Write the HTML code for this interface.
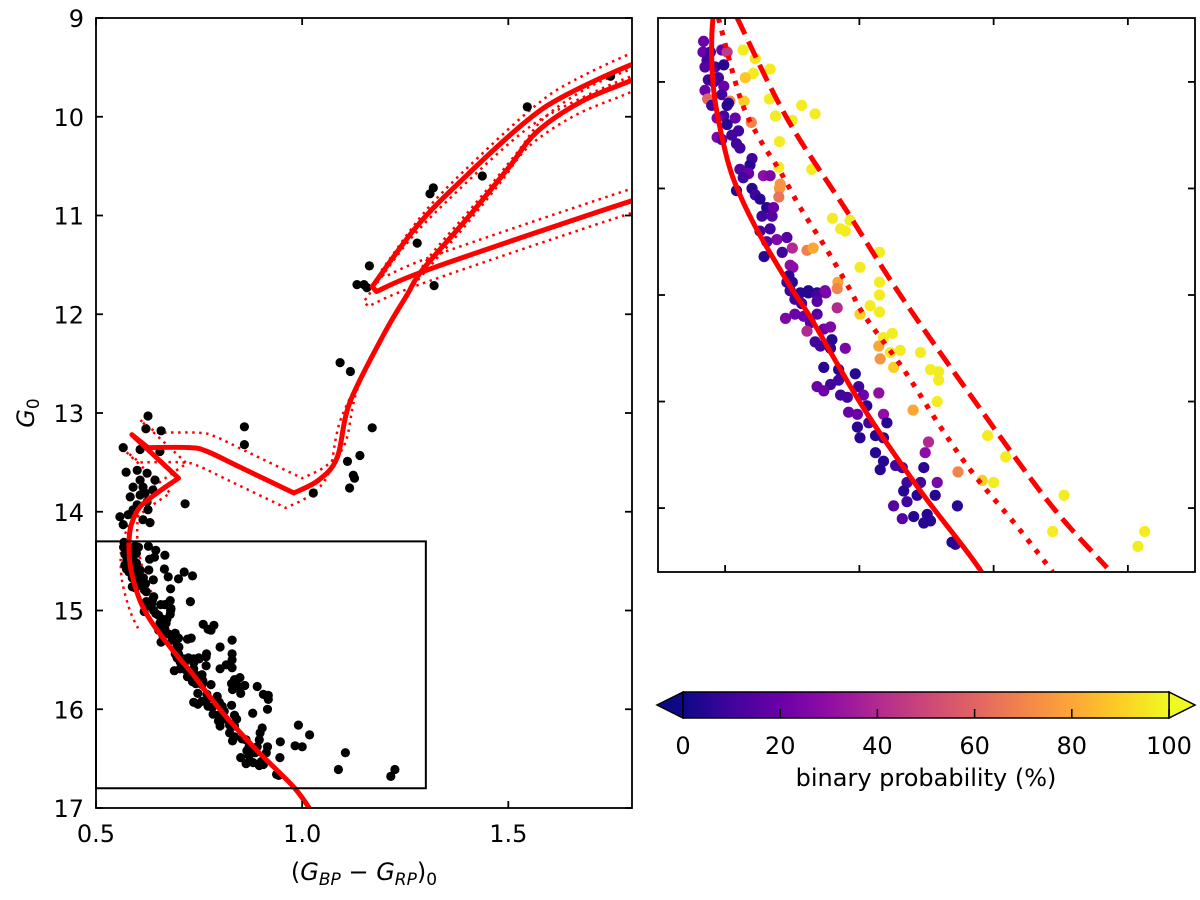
<!DOCTYPE html>
<html><head><meta charset="utf-8"><style>
body{margin:0;background:#fff}
svg{display:block;font-family:"DejaVu Sans","Liberation Sans",sans-serif}
</style></head><body>
<svg id="fig" width="1200" height="900" viewBox="0 0 1200 900">
<defs>
<linearGradient id="plasma" x1="0" x2="1" y1="0" y2="0">
<stop offset="0" stop-color="#0d0887"/><stop offset="0.1" stop-color="#41049d"/><stop offset="0.2" stop-color="#6a00a8"/><stop offset="0.3" stop-color="#8f0da4"/><stop offset="0.4" stop-color="#b12a90"/><stop offset="0.5" stop-color="#cc4778"/><stop offset="0.6" stop-color="#e16462"/><stop offset="0.7" stop-color="#f2844b"/><stop offset="0.8" stop-color="#fca636"/><stop offset="0.9" stop-color="#fcce25"/><stop offset="1" stop-color="#f0f921"/>
</linearGradient>
<clipPath id="clipL"><rect x="96" y="18" width="536" height="790"/></clipPath>
<clipPath id="clipR"><rect x="658" y="18" width="537" height="554"/></clipPath>
</defs>
<g id="left"></g>
<g id="right"></g>
<g id="cbar"></g>
</svg>
<script>
// ---- data ----
const iso1Color=[1.025,0.98,0.891,0.806,0.73,0.701,0.652,0.622,0.603,0.585,0.580,0.582,0.59,0.607,0.648,0.70,0.587,0.626,0.728,0.77,0.85,0.98,1.04,1.085,1.115,1.197,1.255,1.29,1.40,1.50,1.57,1.68,1.80,1.9];
const iso1Mag=[17.05,16.79,16.42,16.03,15.62,15.48,15.22,15.03,14.86,14.59,14.39,14.2,14.08,13.95,13.81,13.66,13.22,13.35,13.35,13.39,13.55,13.81,13.68,13.45,12.9,12.21,11.8,11.56,11.03,10.52,10.15,9.84,9.63,9.45];
const iso1Corners=[15,16,17,21];
const iso2Color=[1.9,1.8,1.318,1.18,1.17,1.28,1.40,1.545,1.64,1.80,1.9];
const iso2Mag=[10.75,10.85,11.53,11.77,11.72,11.1,10.59,10.04,9.78,9.47,9.35];
const iso2Corners=[3,4];
const errShiftColor=[0.02,-0.02];
const errShiftMag=[-0.15,0.15];
const errMaxMag=15.1;
const dotColor=[0.590,0.623,0.652,0.682,0.712,0.752,0.787,0.806,0.866,0.921,0.970,1.036,1.088];
const dotMag=[14.2,14.58,14.77,14.92,15.09,15.29,15.48,15.59,15.85,16.12,16.34,16.59,16.80];
const dashColor=[0.618,0.692,0.782,0.861,0.970,1.084,1.169];
const dashMag=[14.2,14.67,15.11,15.50,15.99,16.48,16.78];
const starColor=[.568,.567,.578,.573,.570,.585,.598,.595,.603,.575,.583,.590,.598,.570,.595,.574,.607,.605,.580,.603,.598,.588,.615,.603,.620,.610,.588,.595,.617,.622,.640,.637,.622,.635,.657,.667,.627,.617,.640,.645,.652,.662,.672,.655,.670,.667,.652,.677,.692,.662,.700,.685,.658,.697,.701,.695,.700,.697,.712,.724,.737,.750,
.627,.645,.667,.642,.630,.666,.628,.714,.734,.675,.700,.639,.681,.680,.729,.682,.681,.680,.760,.786,.772,.779,.722,.731,.830,.801,.768,.767,.830,.830,
.692,.697,.724,.737,.749,.767,.704,.714,.737,.690,.704,.717,.737,.727,.722,.747,.757,.734,.742,.759,.779,.757,.747,.769,.794,.757,.737,.769,.799,.747,.772,.782,.806,.829,.811,.784,.797,.836,.841,.797,.814,.824,.836,.801,.824,.836,.831,.854,.864,.903,.898,.896,.871,.891,.916,.866,.886,.913,.871,.851,.901,.881,.906,.896,.864,.946,.938,.943,
.816,.830,.801,.849,.836,.829,.846,.861,.831,.891,.851,.906,.918,.918,.916,.880,.991,1.018,.947,.983,1.000,1.105,1.088,1.215,1.225,
.626,.621,.658,.566,.607,.655,.86,.86,.573,.60,.624,.643,.59,.614,.607,.638,.624,.59,.626,.716,.578,.558,.614,.566,.631,1.027,1.11,1.14,1.124,1.127,1.115,1.17,.607,.583,.60,.619,
1.546,1.748,1.437,1.318,1.31,1.279,1.163,1.133,1.15,1.157,1.32,1.092,1.117];
const starMag=[14.31,14.36,14.36,14.40,14.43,14.43,14.42,14.35,14.36,14.49,14.50,14.48,14.52,14.54,14.56,14.58,14.59,14.60,14.61,14.61,14.66,14.67,14.67,14.70,14.73,14.75,14.76,14.77,14.79,14.81,14.86,14.89,14.91,14.93,14.94,14.94,14.95,15.01,15.00,15.03,15.05,15.09,15.09,15.13,15.13,15.19,15.20,15.24,15.23,15.25,15.28,15.30,15.32,15.36,15.37,15.41,15.44,15.48,15.49,15.48,15.49,15.49,
14.35,14.39,14.44,14.46,14.48,14.58,14.59,14.61,14.65,14.66,14.68,14.69,14.78,14.90,14.91,14.98,15.00,15.04,15.14,15.15,15.19,15.20,15.29,15.28,15.30,15.37,15.44,15.47,15.44,15.50,
15.44,15.48,15.49,15.50,15.48,15.56,15.52,15.54,15.53,15.61,15.59,15.60,15.59,15.63,15.67,15.66,15.65,15.72,15.74,15.71,15.75,15.75,15.84,15.85,15.87,15.92,15.93,15.90,15.93,15.95,15.97,15.98,15.97,15.96,16.02,16.05,16.06,16.06,16.10,16.12,16.10,16.16,16.17,16.17,16.24,16.28,16.32,16.30,16.31,16.19,16.24,16.31,16.38,16.38,16.38,16.42,16.44,16.44,16.47,16.49,16.53,16.54,16.56,16.57,16.55,16.49,16.66,16.67,
15.55,15.58,15.59,15.68,15.70,15.74,15.77,15.76,15.80,15.77,15.84,15.85,15.86,15.90,16.00,16.04,16.16,16.26,16.33,16.37,16.38,16.44,16.61,16.68,16.61,
13.03,13.16,13.18,13.35,13.37,13.39,13.14,13.32,13.60,13.58,13.61,13.68,13.75,13.75,13.83,13.78,13.90,13.98,13.98,13.92,14.03,14.05,14.08,14.13,14.11,13.81,13.49,13.43,13.63,13.66,13.76,13.15,13.68,13.85,13.93,13.81,
9.90,9.59,10.60,10.72,10.78,11.28,11.51,11.70,11.70,11.73,11.71,12.49,12.58];
const starProb=[20,20,10,10,15,10,5,20,45,10,5,10,20,20,10,60,70,5,10,5,10,25,20,5,10,10,25,15,10,10,10,5,15,20,30,25,10,5,5,10,5,5,20,10,15,10,10,25,15,15,40,10,5,30,30,5,5,5,5,5,5,25,
97,95,97,97,88,97,90,97,97,97,97,70,97,97,97,75,75,65,97,97,97,97,68,80,97,97,80,70,97,97,
10,10,5,10,25,40,10,10,15,25,20,20,15,15,40,20,25,10,10,5,25,5,5,5,5,10,20,10,10,20,10,10,20,30,5,20,20,30,5,5,10,5,5,5,5,5,5,10,10,40,30,5,10,10,25,5,5,5,10,15,5,5,5,5,15,5,5,5,
97,97,90,97,97,80,97,97,75,97,90,97,97,97,97,80,97,97,70,90,97,97,97,97,97,
0,0,0,0,0,0,0,0,0,0,0,0,0,0,0,0,0,0,0,0,0,0,0,0,0,0,0,0,0,0,0,0,0,0,0,0,
0,0,0,0,0,0,0,0,0,0,0,0,0];
const leftXTicks=[0.5,1.0,1.5];
const leftXTickLabels=["0.5","1.0","1.5"];
const leftYTicks=[9,10,11,12,13,14,15,16,17];
const rightXTicks=[0.6,0.8,1.0,1.2];
const rightYTicks=[14.5,15,15.5,16,16.5];
const cbarTicks=[0,20,40,60,80,100];
const boxColor=[0.5,1.3];
const boxMag=[14.3,16.8];

// ---- axes ----
const NS='http://www.w3.org/2000/svg';
function mk(tag,attrs,parent){const e=document.createElementNS(NS,tag);for(const k in attrs)e.setAttribute(k,attrs[k]);parent.appendChild(e);return e;}
const L={x0:96,x1:632,y0:18,y1:808,cmin:0.5,cmax:1.8,gmin:9,gmax:17};
const R={x0:658,x1:1195,y0:18,y1:572,cmin:0.5,cmax:1.3,gmin:14.2,gmax:16.8};
function sx(a,c){return a.x0+(c-a.cmin)/(a.cmax-a.cmin)*(a.x1-a.x0);}
function sy(a,g){return a.y0+(g-a.gmin)/(a.gmax-a.gmin)*(a.y1-a.y0);}
const plasma=['#0d0887','#41049d','#6a00a8','#8f0da4','#b12a90','#cc4778','#e16462','#f2844b','#fca636','#fcce25','#f0f921'];
function hex(h){return [1,3,5].map(i=>parseInt(h.substr(i,2),16));}
function cmap(p){let t=Math.max(0,Math.min(1,p/100))*10;let i=Math.min(9,Math.floor(t));let f=t-i;const a=hex(plasma[i]),b=hex(plasma[i+1]);return 'rgb('+a.map((v,k)=>Math.round(v+(b[k]-v)*f)).join(',')+')';}
function smoothPath(pts,corners){
  corners=corners||[];
  let d='M'+pts[0][0].toFixed(1)+','+pts[0][1].toFixed(1);
  for(let i=0;i<pts.length-1;i++){
    const p1=pts[i],p2=pts[i+1];
    const p0=(i===0||corners.indexOf(i)>=0)?p1:pts[i-1];
    const p3=(i+2>=pts.length||corners.indexOf(i+1)>=0)?p2:pts[i+2];
    const t=0.5/3;
    const c1=[p1[0]+(p2[0]-p0[0])*t,p1[1]+(p2[1]-p0[1])*t];
    const c2=[p2[0]-(p3[0]-p1[0])*t,p2[1]-(p3[1]-p1[1])*t];
    d+=' C'+c1[0].toFixed(1)+','+c1[1].toFixed(1)+' '+c2[0].toFixed(1)+','+c2[1].toFixed(1)+' '+p2[0].toFixed(1)+','+p2[1].toFixed(1);
  }
  return d;
}
function pathOf(a,cs,gs,dc,dg,corners,maxG){
  const pts=[];const cn=[];
  cs.forEach((c,i)=>{if(maxG===undefined||gs[i]<=maxG){if(corners&&corners.indexOf(i)>=0)cn.push(pts.length);pts.push([sx(a,c+dc),sy(a,gs[i]+dg)]);}});
  return smoothPath(pts,cn);
}

const left=document.getElementById('left');
const right=document.getElementById('right');
const cb=document.getElementById('cbar');

// left panel
const lg=mk('g',{'clip-path':'url(#clipL)'},left);
for(let s=0;s<2;s++){
  const p1=mk('path',{d:pathOf(L,iso1Color,iso1Mag,errShiftColor[s],errShiftMag[s],iso1Corners,errMaxMag),fill:'none',stroke:'#ff0000','stroke-width':2.5,'stroke-dasharray':'2.5,4.5'},lg);
  
  
  const p2=mk('path',{d:pathOf(L,iso2Color,iso2Mag,errShiftColor[s],errShiftMag[s],iso2Corners),fill:'none',stroke:'#ff0000','stroke-width':2.5,'stroke-dasharray':'2.5,4.5'},lg);
  
  
}
for(let i=0;i<starColor.length;i++){
  const c=mk('circle',{cx:sx(L,starColor[i]).toFixed(1),cy:sy(L,starMag[i]).toFixed(1),r:4.6,fill:'#000'},lg);
  
  
}
const i1=mk('path',{d:pathOf(L,iso1Color,iso1Mag,0,0,iso1Corners),fill:'none',stroke:'#ff0000','stroke-width':5,'stroke-linejoin':'round'},lg);


const i2=mk('path',{d:pathOf(L,iso2Color,iso2Mag,0,0,iso2Corners),fill:'none',stroke:'#ff0000','stroke-width':5,'stroke-linejoin':'round'},lg);


const bx=mk('rect',{x:L.x0,y:sy(L,boxMag[0]),width:sx(L,boxColor[1])-L.x0,height:sy(L,boxMag[1])-sy(L,boxMag[0]),fill:'none',stroke:'#000','stroke-width':2},left);


mk('rect',{x:L.x0,y:L.y0,width:L.x1-L.x0,height:L.y1-L.y0,fill:'none',stroke:'#000','stroke-width':1.8},left);
leftXTicks.forEach((t,i)=>{const x=sx(L,t);
  mk('line',{x1:x,x2:x,y1:L.y1,y2:L.y1-7,stroke:'#000','stroke-width':1.8},left);
  mk('line',{x1:x,x2:x,y1:L.y0,y2:L.y0+7,stroke:'#000','stroke-width':1.8},left);
  const tx=mk('text',{x:x,y:L.y1+34,'font-size':24,'text-anchor':'middle'},left);tx.textContent=leftXTickLabels[i];
  
  
});
leftYTicks.forEach(t=>{const y=sy(L,t);
  mk('line',{x1:L.x0,x2:L.x0+7,y1:y,y2:y,stroke:'#000','stroke-width':1.8},left);
  mk('line',{x1:L.x1,x2:L.x1-7,y1:y,y2:y,stroke:'#000','stroke-width':1.8},left);
  const tx=mk('text',{x:L.x0-12,y:y+9,'font-size':24,'text-anchor':'end'},left);tx.textContent=String(t);
  
  
});
const xt=mk('text',{x:364,y:880,'font-size':24,'text-anchor':'middle'},left);
xt.innerHTML='(<tspan font-style="italic">G</tspan><tspan font-style="italic" font-size="17" dy="5">BP</tspan><tspan dy="-5"> − </tspan><tspan font-style="italic">G</tspan><tspan font-style="italic" font-size="17" dy="5">RP</tspan><tspan dy="-5">)</tspan><tspan font-size="17" dy="5">0</tspan>';


const yt=mk('text',{x:0,y:0,'font-size':24,'text-anchor':'middle',transform:'translate(34,413) rotate(-90)'},left);
yt.innerHTML='<tspan font-style="italic">G</tspan><tspan font-size="17" dy="5">0</tspan>';



// right panel
const rg=mk('g',{'clip-path':'url(#clipR)'},right);
for(let i=0;i<starColor.length;i++){
  const cx=sx(R,starColor[i]),cy=sy(R,starMag[i]);
  if(starMag[i]<R.gmin-0.05||starColor[i]>R.cmax)continue;
  const c=mk('circle',{cx:cx.toFixed(1),cy:cy.toFixed(1),r:5.6,fill:cmap(starProb[i])},rg);
  
  
}
const rs=mk('path',{d:pathOf(R,iso1Color.slice(0,13),iso1Mag.slice(0,13),0,0),fill:'none',stroke:'#ff0000','stroke-width':5},rg);


const rd=mk('path',{d:pathOf(R,dotColor,dotMag,0,0),fill:'none',stroke:'#ff0000','stroke-width':5,'stroke-dasharray':'5,8'},rg);


const rdd=mk('path',{d:pathOf(R,dashColor,dashMag,0,0),fill:'none',stroke:'#ff0000','stroke-width':5,'stroke-dasharray':'18,8'},rg);


mk('rect',{x:R.x0,y:R.y0,width:R.x1-R.x0,height:R.y1-R.y0,fill:'none',stroke:'#000','stroke-width':1.8},right);
rightXTicks.forEach(t=>{const x=sx(R,t);
  mk('line',{x1:x,x2:x,y1:R.y1,y2:R.y1-7,stroke:'#000','stroke-width':1.8},right);
  mk('line',{x1:x,x2:x,y1:R.y0,y2:R.y0+7,stroke:'#000','stroke-width':1.8},right);});
rightYTicks.forEach(t=>{const y=sy(R,t);
  mk('line',{x1:R.x0,x2:R.x0+7,y1:y,y2:y,stroke:'#000','stroke-width':1.8},right);
  mk('line',{x1:R.x1,x2:R.x1-7,y1:y,y2:y,stroke:'#000','stroke-width':1.8},right);});

// colorbar
const cbx0=683,cbx1=1169,cby0=692,cby1=718;
mk('polygon',{points:`${cbx0},${cby0} 657,${(cby0+cby1)/2} ${cbx0},${cby1}`,fill:'#0d0887',stroke:'#000','stroke-width':1.5},cb);
mk('polygon',{points:`${cbx1},${cby0} 1195,${(cby0+cby1)/2} ${cbx1},${cby1}`,fill:'#f0f921',stroke:'#000','stroke-width':1.5},cb);
mk('rect',{x:cbx0,y:cby0,width:cbx1-cbx0,height:cby1-cby0,fill:'url(#plasma)',stroke:'#000','stroke-width':1.5},cb);
cbarTicks.forEach(t=>{const x=cbx0+t/100*(cbx1-cbx0);
  mk('line',{x1:x,x2:x,y1:cby1,y2:cby1-9,stroke:'#000','stroke-width':1.5},cb);
  const tx=mk('text',{x:x,y:cby1+36,'font-size':24,'text-anchor':'middle'},cb);tx.textContent=String(t);
  
  
});
const ct=mk('text',{x:926,y:786,'font-size':24,'text-anchor':'middle'},cb);ct.textContent='binary probability (%)';


</script>
</body></html>
